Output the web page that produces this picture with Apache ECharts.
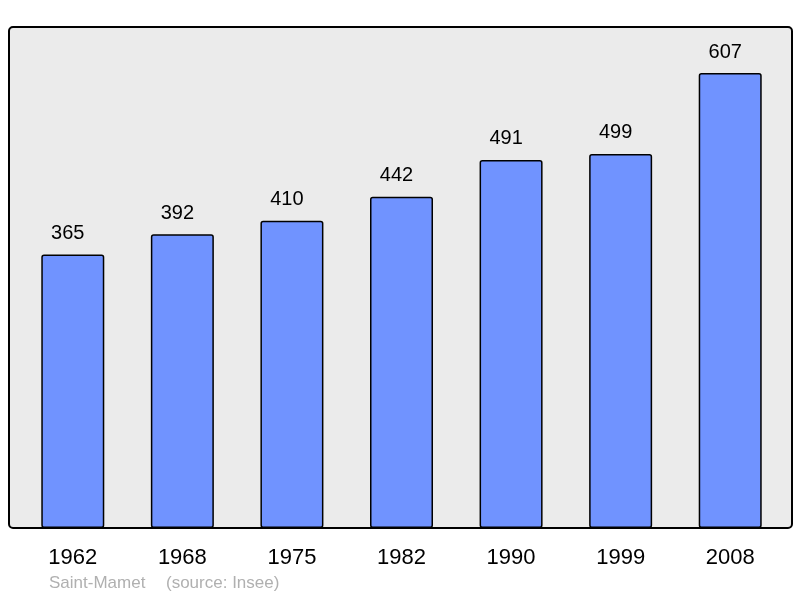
<!DOCTYPE html>
<html><head><meta charset="utf-8">
<script src="https://cdn.jsdelivr.net/npm/echarts@6/dist/echarts.min.js"></script>
<style>html,body{margin:0;padding:0;background:#fff}#c{width:800px;height:598px}</style>
</head><body><div id="c"></div>
<script>
const years = ['1962','1968','1975','1982','1990','1999','2008'];
const population = [365,392,410,442,491,499,607];
const placeName = 'Saint-Mamet';
const sourceText = '(source: Insee)';

const chart = echarts.init(document.getElementById('c'), null, {renderer:'canvas'});
chart.setOption({
  animation: false,
  backgroundColor: '#ffffff',
  textStyle: {fontFamily: 'Liberation Sans, Arial, sans-serif'},
  graphic: [
    {type:'rect', z:-10, shape:{x:9, y:27, width:783, height:501, r:4},
     style:{fill:'#ebebeb', stroke:'#000', lineWidth:2}},
    {type:'text', left:49, top:575, style:{text:placeName, fill:'#b0b0b0', fontSize:17, fontFamily:'Liberation Sans, Arial, sans-serif'}},
    {type:'text', left:166, top:575, style:{text:sourceText, fill:'#b0b0b0', fontSize:17, fontFamily:'Liberation Sans, Arial, sans-serif'}}
  ],
  grid: {left:18, right:15, top:27, bottom:70, containLabel:false},
  xAxis: {
    type:'category', data: years,
    axisLine:{show:false}, axisTick:{show:false},
    axisLabel:{color:'#000', fontSize:22, margin:19}
  },
  yAxis: {type:'value', min:0, max:668.4, show:false, splitLine:{show:false}},
  series: [{
    type:'bar', data: population, barWidth:63,
    itemStyle:{color:'#7093ff', borderColor:'#000', borderWidth:1.5, borderRadius:2},
    label:{show:true, position:'top', distance:11, offset:[-5,0], color:'#000', fontSize:20}
  }]
});
</script></body></html>
